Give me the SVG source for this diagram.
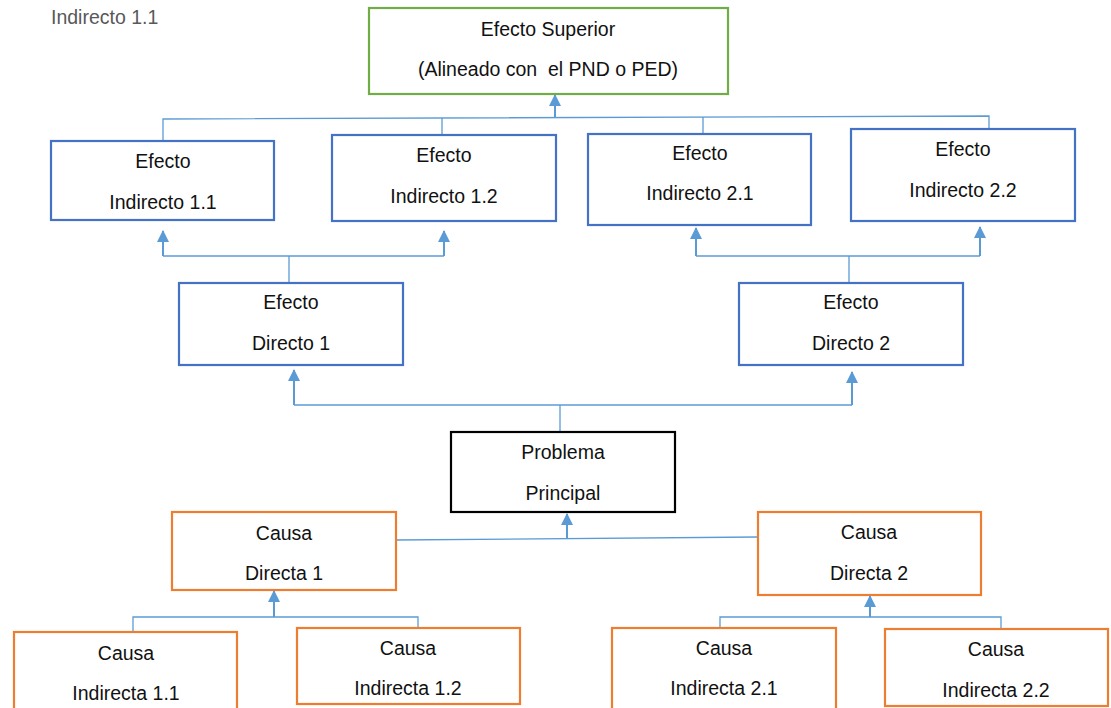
<svg xmlns="http://www.w3.org/2000/svg" width="1111" height="708" viewBox="0 0 1111 708">
<style>
text{font-family:"Liberation Sans",Arial,sans-serif;font-size:19.5px;fill:#111;text-anchor:middle;white-space:pre}
.lbl{fill:#595959;text-anchor:start}
.box{fill:#fff;stroke-width:2.2}
.g{stroke:#70AD47}
.b{stroke:#4472C4}
.k{stroke:#000}
.o{stroke:#ED7D31}
.ln{fill:none;stroke:#5B9BD5;stroke-width:1.3}
.ar{fill:none;stroke:#5B9BD5;stroke-width:2;marker-end:url(#ah)}
</style>
<defs>
<marker id="ah" markerUnits="userSpaceOnUse" markerWidth="12" markerHeight="12" viewBox="0 0 12 12" refX="11" refY="6" orient="auto">
<path d="M0,0 L12,6 L0,12 Z" fill="#5B9BD5"/>
</marker>
</defs>
<rect width="1111" height="708" fill="#fff"/>
<text class="lbl" x="51" y="24">Indirecto 1.1</text>
<g id="connectors">
<polyline class="ln" points="163,141 163,119 989,116 989,130"/>
<line class="ln" x1="442" y1="118" x2="442" y2="135"/>
<line class="ln" x1="703" y1="117" x2="703" y2="134"/>
<line class="ar" x1="555" y1="117" x2="555" y2="95"/>
<polyline class="ln" points="163,256 444,256"/>
<line class="ln" x1="289" y1="256" x2="289" y2="283"/>
<line class="ar" x1="163" y1="256" x2="163" y2="231"/>
<line class="ar" x1="444" y1="256" x2="444" y2="231"/>
<polyline class="ln" points="696,256 980,256"/>
<line class="ln" x1="849" y1="256" x2="849" y2="283"/>
<line class="ar" x1="696" y1="256" x2="696" y2="228"/>
<line class="ar" x1="980" y1="256" x2="980" y2="227"/>
<polyline class="ln" points="294,405 852,405"/>
<line class="ln" x1="560" y1="405" x2="560" y2="432"/>
<line class="ar" x1="294" y1="405" x2="294" y2="370"/>
<line class="ar" x1="852" y1="405" x2="852" y2="372"/>
<line class="ln" x1="396" y1="540" x2="758" y2="537"/>
<line class="ar" x1="567" y1="538" x2="567" y2="514"/>
<polyline class="ln" points="133,632 133,617 418,617 418,628"/>
<line class="ar" x1="274" y1="617" x2="274" y2="591"/>
<polyline class="ln" points="720,628 720,617 1001,617 1001,629"/>
<line class="ar" x1="870" y1="617" x2="870" y2="596"/>
</g>
<g id="efecto-superior">
<rect class="box g" x="369" y="8" width="359" height="86"/>
<text x="548" y="36">Efecto Superior</text>
<text x="548" y="76" xml:space="preserve">(Alineado con  el PND o PED)</text>
</g>
<g id="efecto-indirecto-1-1">
<rect class="box b" x="51" y="141" width="223" height="79"/>
<text x="163" y="168">Efecto</text>
<text x="163" y="209">Indirecto 1.1</text>
</g>
<g id="efecto-indirecto-1-2">
<rect class="box b" x="332" y="135" width="224" height="86"/>
<text x="444" y="162">Efecto</text>
<text x="444" y="203">Indirecto 1.2</text>
</g>
<g id="efecto-indirecto-2-1">
<rect class="box b" x="588" y="134" width="223" height="91"/>
<text x="700" y="160">Efecto</text>
<text x="700" y="200">Indirecto 2.1</text>
</g>
<g id="efecto-indirecto-2-2">
<rect class="box b" x="851" y="129" width="224" height="92"/>
<text x="963" y="156">Efecto</text>
<text x="963" y="197">Indirecto 2.2</text>
</g>
<g id="efecto-directo-1">
<rect class="box b" x="179" y="283" width="224" height="82"/>
<text x="291" y="309">Efecto</text>
<text x="291" y="350">Directo 1</text>
</g>
<g id="efecto-directo-2">
<rect class="box b" x="739" y="283" width="224" height="82"/>
<text x="851" y="309">Efecto</text>
<text x="851" y="350">Directo 2</text>
</g>
<g id="problema-principal">
<rect class="box k" x="451" y="432" width="224" height="80"/>
<text x="563" y="459">Problema</text>
<text x="563" y="500">Principal</text>
</g>
<g id="causa-directa-1">
<rect class="box o" x="172" y="512" width="224" height="78"/>
<text x="284" y="540">Causa</text>
<text x="284" y="580">Directa 1</text>
</g>
<g id="causa-directa-2">
<rect class="box o" x="758" y="512" width="223" height="83"/>
<text x="869" y="539">Causa</text>
<text x="869" y="580">Directa 2</text>
</g>
<g id="causa-indirecta-1-1">
<rect class="box o" x="14" y="632" width="223" height="80"/>
<text x="126" y="660">Causa</text>
<text x="126" y="700">Indirecta 1.1</text>
</g>
<g id="causa-indirecta-1-2">
<rect class="box o" x="297" y="628" width="223" height="76"/>
<text x="408" y="655">Causa</text>
<text x="408" y="695">Indirecta 1.2</text>
</g>
<g id="causa-indirecta-2-1">
<rect class="box o" x="612" y="628" width="224" height="84"/>
<text x="724" y="655">Causa</text>
<text x="724" y="695">Indirecta 2.1</text>
</g>
<g id="causa-indirecta-2-2">
<rect class="box o" x="885" y="629" width="223" height="77"/>
<text x="996" y="656">Causa</text>
<text x="996" y="697">Indirecta 2.2</text>
</g>
</svg>
